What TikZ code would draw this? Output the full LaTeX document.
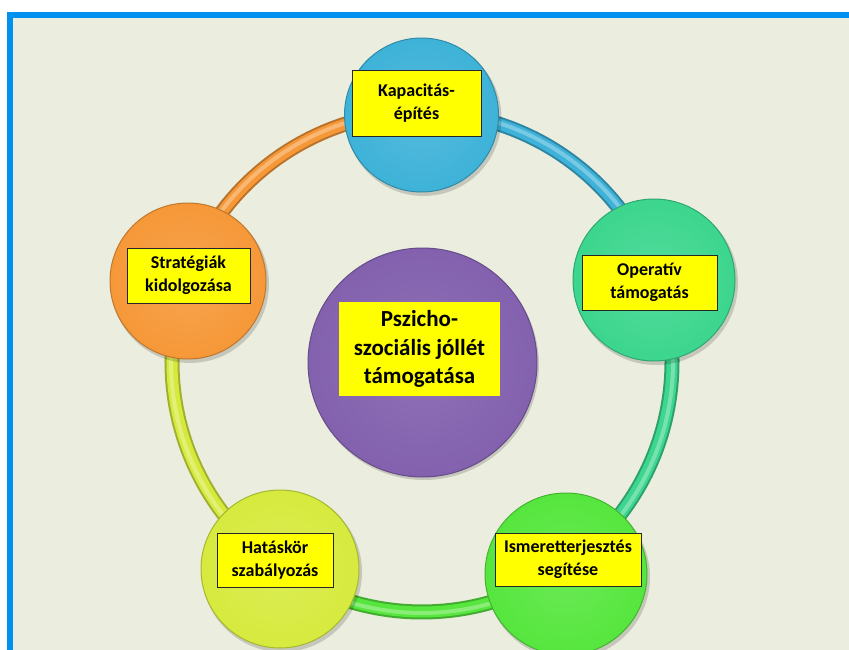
\documentclass[tikz,border=0pt]{standalone}
\usepackage{fontspec}
\setmainfont{Carlito}
\definecolor{bgc}{RGB}{235,238,223}
\definecolor{framec}{RGB}{0,144,240}
\definecolor{cblue}{RGB}{62,178,216}
\definecolor{cteal}{RGB}{60,214,142}
\definecolor{cgreen}{RGB}{86,230,62}
\definecolor{cyel}{RGB}{214,234,62}
\definecolor{corange}{RGB}{246,152,56}
\definecolor{cpurple}{RGB}{131,97,174}
\definecolor{boxy}{RGB}{255,255,0}
\newcommand{\tubearc}[3]{%
  \draw[line width=15pt, #1!75!black] (ring) ++(#2:250) arc[start angle=#2, end angle=#3, radius=250];
  \draw[line width=11pt, #1] (ring) ++(#2:250) arc[start angle=#2, end angle=#3, radius=250];
  \draw[line width=4pt, #1!70!white] (ring) ++(#2:251) arc[start angle=#2, end angle=#3, radius=251];
}
\begin{document}
\begin{tikzpicture}[x=1pt,y=1pt,
  ball/.style={circle, inner sep=0pt, minimum size=#1},
  lbl/.style={draw=black!85, line width=0.8pt, fill=boxy, align=center, inner sep=0pt,
    font=\bfseries\fontsize{18}{23}\selectfont},
  mainlbl/.style={fill=boxy, align=center, inner sep=0pt,
    font=\bfseries\fontsize{23}{28.5}\selectfont},
  shad/.style={fill=black, opacity=0.16}
]
\useasboundingbox (0,0) rectangle (849,-650);
\fill[white] (0,0) rectangle (849,-650);
\fill[framec] (7,-12) rectangle (849,-650);
\fill[bgc] (13,-18) rectangle (849,-650);

\coordinate (ring) at (422,-362);
\tubearc{cblue}{90}{19.5}
\tubearc{cteal}{19.5}{-55.8}
\tubearc{cgreen}{-55.8}{-124.4}
\tubearc{cyel}{-124.4}{-199.1}
\tubearc{corange}{-199.1}{-270}

% shadows
\fill[shad] (423.5,-118) circle (78);
\fill[shad] (656,-283) circle (82);
\fill[shad] (568,-577) circle (82);
\fill[shad] (282,-572) circle (80);
\fill[shad] (190,-284) circle (79);
\fill[shad] (424,-365) circle (115);

% circles
\node[ball=154pt, inner color=cblue!88!white, outer color=cblue, draw=cblue!78!black, line width=1pt] (kapc) at (421.5,-115) {};
\node[ball=162pt, inner color=cteal!88!white, outer color=cteal, draw=cteal!78!black, line width=1pt] (opec) at (654,-280) {};
\node[ball=162pt, inner color=cgreen!88!white, outer color=cgreen, draw=cgreen!78!black, line width=1pt] (ismc) at (566,-574) {};
\node[ball=158pt, inner color=cyel!88!white, outer color=cyel, draw=cyel!78!black, line width=1pt] (hatc) at (280,-569) {};
\node[ball=156pt, inner color=corange!88!white, outer color=corange, draw=corange!78!black, line width=1pt] (strc) at (188,-281) {};
\node[ball=229pt, inner color=cpurple!90!white, outer color=cpurple, draw=cpurple!78!black, line width=1pt] (pszc) at (422.5,-362.5) {};

% labels
\node[lbl, minimum width=129pt, minimum height=66pt] (kap) at (416.5,-103) {Kapacitás-\\építés};
\node[lbl, minimum width=135pt, minimum height=55pt] (ope) at (649.5,-282.5) {Operatív\\támogatás};
\node[lbl, minimum width=146pt, minimum height=53pt] (ism) at (568,-559.5) {Ismeretterjesztés\\segítése};
\node[lbl, minimum width=116pt, minimum height=54pt] (hat) at (275,-560) {Hatáskör\\szabályozás};
\node[lbl, minimum width=123pt, minimum height=55pt] (str) at (188.5,-275.5) {Stratégiák\\kidolgozása};
\node[mainlbl, minimum width=161pt, minimum height=94pt] (psz) at (419.5,-349) {Pszicho-\\szociális jóllét\\támogatása};
\end{tikzpicture}
\end{document}
